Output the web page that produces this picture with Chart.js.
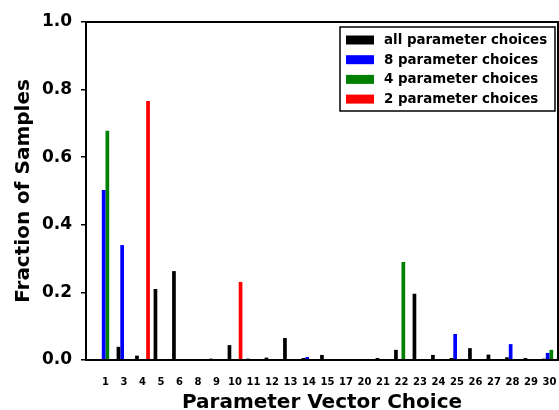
<!DOCTYPE html>
<html>
<head>
<meta charset="utf-8">
<script src="https://cdn.jsdelivr.net/npm/chart.js@4/dist/chart.umd.min.js"></script>
<style>
  html, body { margin: 0; padding: 0; background: #fff; }
  #wrap { width: 559px; height: 410px; }
</style>
</head>
<body>
<div id="wrap"><canvas id="myChart" width="559" height="410"></canvas></div>
<script>
'use strict';

// parameter vector choices shown on the x axis
const choices = ['1', '3', '4', '5', '6', '8', '9', '10', '11', '12', '13', '14', '15',
  '17', '20', '21', '22', '23', '24', '25', '26', '27', '28', '29', '30'];

const allChoices = [0.003, 0.039, 0.013, 0.210, 0.263, 0.001, 0.004, 0.044, 0.004, 0.007, 0.065, 0.006, 0.015,
  0.002, 0.001, 0.006, 0.030, 0.196, 0.015, 0.006, 0.035, 0.016, 0.008, 0.006, 0.004];
const eightChoices = [0.503, 0.340, 0.001, 0.001, 0.001, 0.001, 0.002, 0.001, 0.001, 0.001, 0.001, 0.009, 0.001,
  0.001, 0.001, 0.001, 0.001, 0.001, 0.001, 0.077, 0.001, 0.001, 0.047, 0.001, 0.021];
const fourChoices = [0.678, 0, 0, 0, 0, 0, 0, 0, 0, 0, 0, 0, 0,
  0, 0.003, 0, 0.290, 0, 0, 0, 0, 0, 0, 0, 0.030];
const twoChoices = [0.001, 0.001, 0.766, 0.001, 0.001, 0.001, 0.001, 0.231, 0.001, 0.001, 0.001, 0.001, 0.001,
  0.001, 0.002, 0.001, 0.001, 0.001, 0.001, 0.001, 0.001, 0.001, 0.001, 0.001, 0.001];

const seriesNames = ['all parameter choices', '8 parameter choices', '4 parameter choices', '2 parameter choices'];
const seriesColors = ['#000000', '#0000ff', '#008000', '#ff0000'];

function points(values) {
  return values.map((v, i) => ({ x: i, y: v }));
}

const font = 'DejaVu Sans';

// box around the plot area
const framePlugin = {
  id: 'frame',
  afterDatasetsDraw(chart) {
    const a = chart.chartArea;
    const ctx = chart.ctx;
    ctx.save();
    ctx.strokeStyle = '#000';
    ctx.lineWidth = 2;
    ctx.strokeRect(a.left, a.top, a.right - a.left, a.bottom - a.top);
    ctx.restore();
  }
};

// legend in the upper right corner, inside the plot
const boxLegend = {
  id: 'boxLegend',
  afterDraw(chart) {
    const ctx = chart.ctx;
    const x0 = 340, y0 = 27, w = 215, h = 84;
    ctx.save();
    ctx.fillStyle = '#fff';
    ctx.fillRect(x0, y0, w, h);
    ctx.strokeStyle = '#000';
    ctx.lineWidth = 1.5;
    ctx.strokeRect(x0, y0, w, h);
    ctx.font = 'bold 13.4px "' + font + '"';
    ctx.textBaseline = 'middle';
    chart.data.datasets.forEach((ds, i) => {
      const y = 40 + i * 19.7;
      ctx.fillStyle = ds.backgroundColor;
      ctx.fillRect(346, y - 4.5, 28, 9);
      ctx.fillStyle = '#000';
      ctx.fillText(ds.label, 384, y + 0.5);
    });
    ctx.restore();
  }
};

const ctx = document.getElementById('myChart').getContext('2d');
const myChart = new Chart(ctx, {
  type: 'bar',
  data: {
    datasets: [
      { label: seriesNames[0], data: points(allChoices), backgroundColor: seriesColors[0] },
      { label: seriesNames[1], data: points(eightChoices), backgroundColor: seriesColors[1] },
      { label: seriesNames[2], data: points(fourChoices), backgroundColor: seriesColors[2] },
      { label: seriesNames[3], data: points(twoChoices), backgroundColor: seriesColors[3] }
    ]
  },
  options: {
    responsive: false,
    animation: false,
    devicePixelRatio: 1,
    layout: { padding: { top: 22, right: 1, left: 0, bottom: 0 } },
    datasets: { bar: { categoryPercentage: 0.8, barPercentage: 1.0, borderWidth: 0 } },
    plugins: {
      legend: { display: false },
      tooltip: { enabled: false }
    },
    scales: {
      x: {
        type: 'linear',
        offset: false,
        min: -1.054,
        max: 24.46,
        grid: { display: false, drawTicks: false },
        border: { display: false },
        ticks: {
          stepSize: 1,
          autoSkip: false,
          includeBounds: false,
          maxRotation: 0,
          padding: 16,
          color: '#000',
          font: { family: font, weight: 'bold', size: 10 },
          callback: (v) => Number.isInteger(v) ? choices[v] : ''
        },
        title: {
          display: true,
          text: 'Parameter Vector Choice',
          color: '#000',
          font: { family: font, weight: 'bold', size: 20, lineHeight: 0.7 },
          padding: { top: 0, bottom: 0 }
        },
        afterFit(scale) { scale.height = 50; scale.paddingRight = 0; }
      },
      y: {
        min: 0,
        max: 1,
        grid: { drawOnChartArea: false, drawTicks: true, tickLength: 5, color: '#000', lineWidth: 1.5 },
        border: { display: false },
        ticks: {
          stepSize: 0.2,
          padding: 9,
          color: '#000',
          font: { family: font, weight: 'bold', size: 17 },
          callback: (v) => v.toFixed(1)
        },
        title: {
          display: true,
          text: 'Fraction of Samples',
          color: '#000',
          font: { family: font, weight: 'bold', size: 20 },
          padding: { top: 12, bottom: 0 }
        },
        afterFit(scale) { scale.width = 86; }
      }
    }
  },
  plugins: [framePlugin, boxLegend]
});
</script>
</body>
</html>
